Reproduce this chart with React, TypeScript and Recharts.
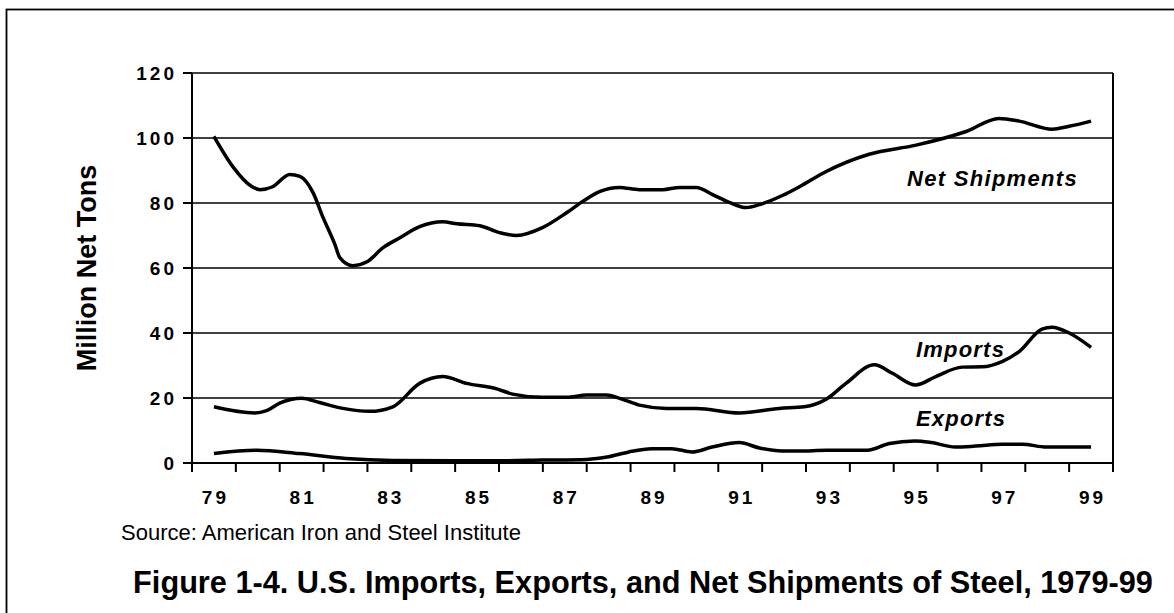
import React from 'react';
import { LineChart, Line, XAxis, YAxis, CartesianGrid, ReferenceLine } from 'recharts';

const FONT = '"Liberation Sans", Arial, Helvetica, sans-serif';

// Net shipments (million net tons)
const netYears = [79.0, 79.43, 79.87, 80.05, 80.34, 80.73, 80.96, 81.26, 81.48, 81.76, 81.87, 82.17, 82.49, 82.85, 83.24, 83.69, 84.22, 84.54, 85.06, 85.51, 85.9, 86.49, 87.04, 87.41, 87.79, 88.25, 88.7, 89.23, 89.62, 90.0, 90.37, 90.75, 91.14, 91.44, 91.96, 92.35, 92.96, 93.94, 95.01, 96.15, 96.9, 97.36, 98.11, 98.5, 99.0];
const netValues = [100.5, 91.2, 85.0, 84.1, 85.0, 88.8, 88.2, 83.2, 75.8, 67.2, 63.2, 60.7, 61.9, 66.2, 69.3, 72.7, 74.2, 73.6, 73.0, 70.9, 70.0, 72.4, 77.0, 80.5, 83.5, 84.8, 84.1, 84.1, 84.8, 84.8, 82.6, 80.2, 78.6, 79.5, 82.3, 85.0, 89.7, 95.0, 97.8, 102.0, 106.0, 105.2, 102.7, 103.6, 105.2];

// Imports
const impYears = [79.0, 79.93, 80.2, 80.5, 81.0, 81.41, 81.94, 82.55, 83.08, 83.69, 84.22, 84.76, 85.45, 85.81, 86.49, 87.04, 87.5, 87.95, 88.25, 88.7, 89.32, 90.0, 90.98, 91.89, 92.46, 92.96, 93.41, 94.06, 94.47, 95.0, 95.46, 96.06, 96.52, 96.97, 97.36, 97.88, 98.11, 98.5, 99.0];
const impValues = [17.3, 15.4, 16.1, 18.4, 19.9, 18.6, 16.8, 15.9, 17.3, 24.5, 26.6, 24.5, 22.8, 21.2, 20.2, 20.2, 20.9, 20.9, 19.9, 17.8, 16.8, 16.8, 15.4, 16.8, 17.3, 19.6, 24.5, 30.2, 27.6, 24.0, 26.6, 29.5, 29.6, 31.2, 34.3, 41.2, 41.8, 40.0, 35.6];

// Exports
const expYears = [79.0, 79.97, 80.95, 82.01, 83.08, 84.5, 85.5, 86.5, 87.5, 88.0, 88.46, 88.98, 89.44, 89.9, 90.36, 90.98, 91.44, 91.96, 92.35, 92.96, 93.9, 94.4, 94.98, 95.36, 95.9, 96.37, 96.98, 97.43, 97.98, 99.0];
const expValues = [2.9, 3.9, 2.9, 1.4, 0.8, 0.7, 0.7, 0.9, 1.1, 1.9, 3.4, 4.4, 4.4, 3.4, 4.9, 6.3, 4.6, 3.7, 3.7, 3.9, 3.9, 6.0, 6.8, 6.3, 4.9, 5.2, 5.8, 5.8, 4.9, 4.9];

const yTicks = [0, 20, 40, 60, 80, 100, 120];
const yearLabels = [79, 81, 83, 85, 87, 89, 91, 93, 95, 97, 99];
const yearBoundaries = [78.5, 79.5, 80.5, 81.5, 82.5, 83.5, 84.5, 85.5, 86.5, 87.5, 88.5, 89.5, 90.5, 91.5, 92.5, 93.5, 94.5, 95.5, 96.5, 97.5, 98.5, 99.5];

const toSeries = (xs: number[], vs: number[]) => xs.map((x, i) => ({ x, v: vs[i] }));
const netData = toSeries(netYears, netValues);
const impData = toSeries(impYears, impValues);
const expData = toSeries(expYears, expValues);
const xTicks = [...yearBoundaries, ...yearLabels].sort((a, b) => a - b);

const TICK_SPACING = 3;
const tickStyle = {
  fontFamily: FONT,
  fontSize: 19,
  fontWeight: 700,
  fill: '#000',
  letterSpacing: TICK_SPACING,
};

const XTick = (props: any) => {
  const { x, y, payload } = props;
  const v = payload.value as number;
  if (yearBoundaries.includes(v)) {
    return <line x1={x} x2={x} y1={y} y2={y + 9} stroke="#000" strokeWidth={2} />;
  }
  return (
    <text x={x + TICK_SPACING / 2} y={y + 41} textAnchor="middle" {...tickStyle}>
      {String(v)}
    </text>
  );
};

export default function App() {
  return (
    <div style={{ position: 'absolute', left: 0, top: 0, width: 1174, height: 613, background: '#fff' }}>
      <LineChart
        width={1174}
        height={613}
        margin={{ top: 73, right: 61, bottom: 0, left: 0 }}
      >
        <CartesianGrid horizontal vertical={false} stroke="#000" strokeWidth={1.3} />
        <XAxis
          dataKey="x"
          type="number"
          domain={[78.5, 99.5]}
          ticks={xTicks}
          interval={0}
          tickLine={false}
          tickSize={0}
          tickMargin={0}
          height={150}
          stroke="#000"
          strokeWidth={2}
          tick={XTick}
        />
        <YAxis
          domain={[0, 120]}
          ticks={yTicks}
          interval={0}
          width={192}
          tickSize={9}
          tickMargin={6}
          stroke="#000"
          strokeWidth={2}
          tick={tickStyle}
        />
        <ReferenceLine x={99.5} stroke="#000" strokeWidth={2} ifOverflow="visible" />
        <Line data={netData} dataKey="v" type="monotone" stroke="#000" strokeWidth={3.5} dot={false} isAnimationActive={false} />
        <Line data={impData} dataKey="v" type="monotone" stroke="#000" strokeWidth={3.5} dot={false} isAnimationActive={false} />
        <Line data={expData} dataKey="v" type="monotone" stroke="#000" strokeWidth={3.5} dot={false} isAnimationActive={false} />
      </LineChart>
      <svg
        width={1174}
        height={613}
        style={{ position: 'absolute', left: 0, top: 0, pointerEvents: 'none' }}
      >
        <rect x={6.5} y={9.5} width={1200} height={700} fill="none" stroke="#000" strokeWidth={1.8} />
        <text
          x={96}
          y={268}
          transform="rotate(-90 96 268)"
          textAnchor="middle"
          fontFamily={FONT}
          fontSize={27}
          fontWeight={700}
        >
          Million Net Tons
        </text>
        <text x={907} y={186} fontFamily={FONT} fontSize={22} fontWeight={700} fontStyle="italic" letterSpacing={1.3}>
          Net Shipments
        </text>
        <text x={916} y={357} fontFamily={FONT} fontSize={22} fontWeight={700} fontStyle="italic" letterSpacing={1.2}>
          Imports
        </text>
        <text x={916} y={426} fontFamily={FONT} fontSize={22} fontWeight={700} fontStyle="italic" letterSpacing={1.2}>
          Exports
        </text>
        <text x={121} y={540} fontFamily={FONT} fontSize={22}>
          Source: American Iron and Steel Institute
        </text>
        <text x={643} y={593} textAnchor="middle" fontFamily={FONT} fontSize={30.7} fontWeight={700}>
          Figure 1-4. U.S. Imports, Exports, and Net Shipments of Steel, 1979-99
        </text>
      </svg>
    </div>
  );
}
